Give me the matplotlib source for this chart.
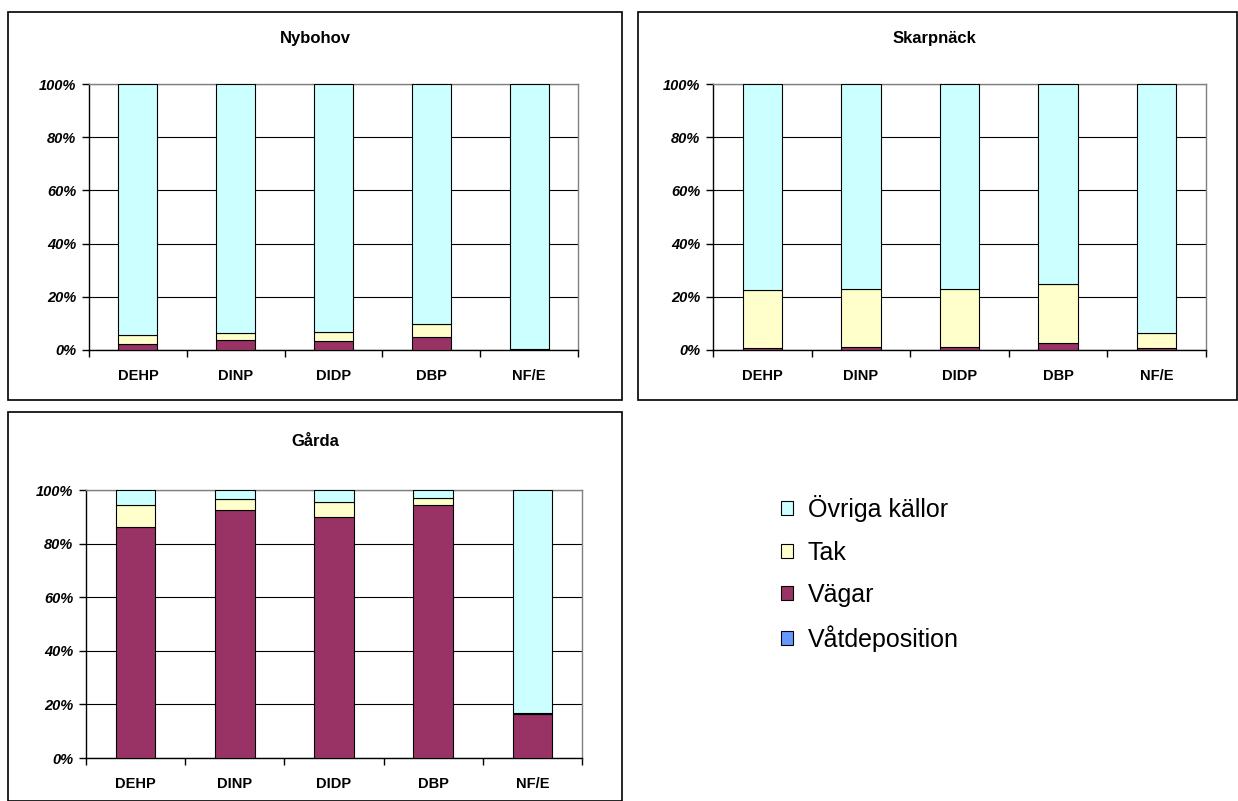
import numpy as np
import matplotlib
matplotlib.use("Agg")
import matplotlib.pyplot as plt
from matplotlib.patches import Rectangle, Patch

plt.rcParams['font.family'] = ['Liberation Sans', 'DejaVu Sans']

# ---- data: share of each source (%) per substance ----
categories = ["DEHP", "DINP", "DIDP", "DBP", "NF/E"]
series_names = ["Våtdeposition", "Vägar", "Tak", "Övriga källor"]
colors = ["#6699FF", "#993366", "#FFFFCC", "#CCFFFF"]

nybohov_vat = [0.1, 0.1, 0.1, 0.1, 0.1]
nybohov_vagar = [2.1, 3.6, 3.2, 4.9, 0.3]
nybohov_tak = [3.5, 2.7, 3.6, 4.7, 0.1]
nybohov_ovriga = [94.3, 93.6, 93.1, 90.3, 99.5]

skarpnack_vat = [0.1, 0.1, 0.1, 0.1, 0.1]
skarpnack_vagar = [0.5, 0.9, 0.9, 2.5, 0.6]
skarpnack_tak = [21.8, 21.8, 21.8, 22.3, 5.8]
skarpnack_ovriga = [77.6, 77.2, 77.2, 75.1, 93.5]

garda_vat = [0.1, 0.1, 0.1, 0.1, 0.1]
garda_vagar = [86.0, 92.4, 89.7, 94.3, 16.4]
garda_tak = [8.4, 4.0, 5.9, 2.5, 0.3]
garda_ovriga = [5.5, 3.5, 4.3, 3.1, 83.2]

panels = [
    ("Nybohov", [nybohov_vat, nybohov_vagar, nybohov_tak, nybohov_ovriga]),
    ("Skarpnäck", [skarpnack_vat, skarpnack_vagar, skarpnack_tak, skarpnack_ovriga]),
    ("Gårda", [garda_vat, garda_vagar, garda_tak, garda_ovriga]),
]
y_ticks = [0, 20, 40, 60, 80, 100]
y_labels = ["0%", "20%", "40%", "60%", "80%", "100%"]

W, H = 1238, 801
fig = plt.figure(figsize=(W / 100, H / 100), dpi=100)


def frac_rect(l, t, r, b):
    return [l / W, 1 - b / H, (r - l) / W, (b - t) / H]


# (chart box, plot area, title position) in pixels
layout = [
    ((8, 12, 622, 400), (89, 84, 578, 350), (315, 38)),
    ((638, 12, 1237, 400), (713, 84, 1206, 350), (934, 38)),
    ((8, 412, 622, 801), (86, 490, 582, 758), (315, 441)),
]

for (title, stacks), (box, area, tpos) in zip(panels, layout):
    bl, bt, br, bb = box
    fig.add_artist(Rectangle((bl / W, 1 - bb / H), (br - bl) / W, (bb - bt) / H,
                             transform=fig.transFigure, fill=False,
                             edgecolor="black", linewidth=1.2))
    fig.text(tpos[0] / W, 1 - tpos[1] / H, title, ha="center", va="center",
             fontsize=12, fontweight="bold")

    ax = fig.add_axes(frac_rect(*area))
    x = np.arange(len(categories))
    bottom = np.zeros(len(categories))
    for vals, col, name in zip(stacks, colors, series_names):
        v = np.array(vals, dtype=float)
        ax.bar(x, v, width=0.4, bottom=bottom, color=col, edgecolor="black",
               linewidth=0.8, label=name, zorder=3)
        bottom += v

    ax.set_xlim(-0.5, len(categories) - 0.5)
    ax.set_ylim(0, 100)
    ax.set_yticks(y_ticks)
    ax.set_yticklabels(y_labels, fontsize=10.5, fontweight="bold", fontstyle="italic")
    ax.set_xticks(x)
    ax.set_xticklabels(categories, fontsize=10.5, fontweight="bold")
    ax.set_xticks(np.arange(-0.5, len(categories)), minor=True)
    ax.tick_params(axis="x", which="major", length=0, pad=14)
    ax.tick_params(axis="x", which="minor", length=5, width=1, direction="out")
    ax.tick_params(axis="y", length=5, width=1, direction="out", pad=4)
    ax.yaxis.grid(True, color="black", linewidth=0.8, zorder=0)
    ax.set_axisbelow(True)
    for side in ("top", "right"):
        ax.spines[side].set_color("#808080")
        ax.spines[side].set_linewidth(1.0)
    for side in ("left", "bottom"):
        ax.spines[side].set_color("black")
        ax.spines[side].set_linewidth(1.0)

handles = [Patch(facecolor=c, edgecolor="black", linewidth=0.8, label=n)
           for c, n in zip(colors, series_names)][::-1]
fig.legend(handles=handles, loc="upper left",
           bbox_to_anchor=(771 / W, 1 - 485 / H), frameon=False,
           borderaxespad=0, fontsize=18, handlelength=0.48, handleheight=0.48,
           handletextpad=0.6, labelspacing=0.74)

fig.savefig("out.png", dpi=100)
